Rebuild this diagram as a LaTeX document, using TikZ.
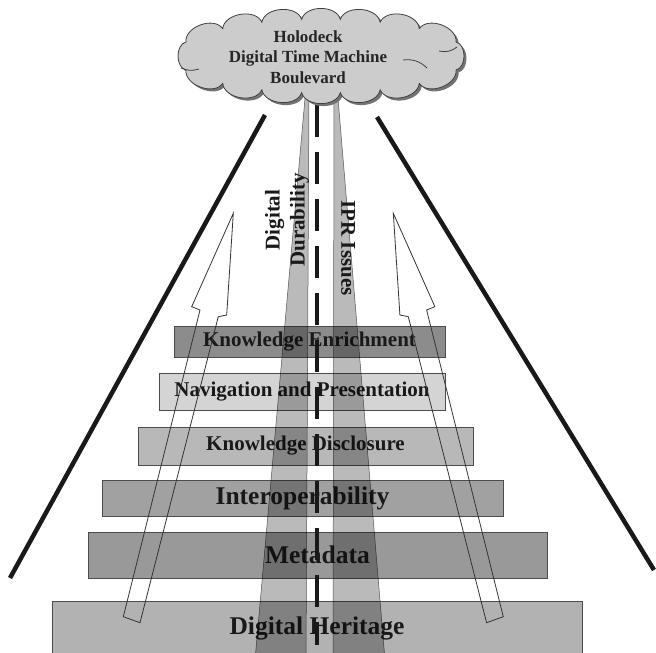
\documentclass[tikz,border=0pt]{standalone}
\usepackage{fontspec}
\setmainfont{Liberation Serif}
\usetikzlibrary{shadows}
\tikzset{
    layer/.style={draw=black!70, line width=0.7pt, inner sep=0pt, text=black!90, font=\bfseries\fontsize{21}{25}\selectfont},
    biglayer/.style={layer, font=\bfseries\fontsize{25.5}{30}\selectfont},
    beam/.style={fill=black!27, draw=black!60, line width=0.5pt, blend mode=multiply},
    beamtext/.style={align=center, inner sep=0pt, text=black!90, font=\bfseries\fontsize{21}{25}\selectfont},
    midline/.style={line width=3.3pt, black!90, dash pattern=on 32pt off 15pt},
    roadside/.style={line width=4.5pt, black!90},
    hollowarrow/.style={draw=black!80, line width=0.8pt, line join=miter},
    cloudy/.style={draw=black!75, fill=black!20, line width=0.8pt,
        drop shadow={shadow xshift=2.5pt, shadow yshift=-2.5pt, fill=black!55, opacity=1}},
    curl/.style={draw=black!75, line width=0.8pt},
    cloudtext/.style={align=center, inner sep=0pt, text=black!85, font=\bfseries\fontsize{17}{20.5}\selectfont}
}

\begin{document}
\begin{tikzpicture}[x=1pt, y=-1pt]
    \useasboundingbox (0,0) rectangle (656,653);
    % layers of the road
    \node[layer, fill=black!45, minimum width=271pt, minimum height=31pt] (enrich) at (309.5,341.5) {Knowledge Enrichment};
    \node[layer, fill=black!17, minimum width=286pt, minimum height=37pt] (navi) at (302,391.5) {Navigation and Presentation};
    \node[layer, fill=black!28, minimum width=335pt, minimum height=38pt] (disclose) at (305.5,446) {Knowledge Disclosure};
    \node[biglayer, fill=black!37, minimum width=401pt, minimum height=36pt] (interop) at (302.5,498) {Interoperability};
    \node[biglayer, fill=black!40, minimum width=459pt, minimum height=46pt] (meta) at (317.5,555) {Metadata};
    \node[biglayer, fill=black!30, minimum width=530pt, minimum height=54pt] (heritage) at (317,628) {Digital Heritage};
    % beams
    \draw[beam] (305,98) -- (309,98) -- (306,660) -- (255,660) -- cycle;
    \draw[beam] (334,98) -- (338,98) -- (385,660) -- (333,660) -- cycle;
    \draw[midline] (317,105) -- (317,645);
    % hollow arrows
    \draw[hollowarrow] (123.3,616.7) -- (200,310) -- (191.7,306.7) -- (233.3,213.3) -- (226.7,315)
        -- (218.3,316.7) -- (140,622.7) -- cycle;
    \draw[hollowarrow] (503.3,616.7) -- (426.6,310) -- (434.9,306.7) -- (393.3,213.3) -- (399.9,315)
        -- (408.3,316.7) -- (486.6,622.7) -- cycle;
    % road sides
    \draw[roadside] (265,115) -- (10,578);
    \draw[roadside] (377,117) -- (654,570);
    % cloud
    \begin{scope}[shift={(321,56)}]
        \draw[cloudy] (22.3:146 and 37)
            \foreach \a in {47.7,66.1,82.4,97.6,113.9,132.3,157.7,202.3,227.7,246.1,262.4,277.6,293.9,312.3,337.7}
                { to[bend left=75] (\a:146 and 37) }
            to[bend left=75] (22.3:146 and 37) -- cycle;
        \draw[curl] (-140,12) to[bend right=20] (-122,13);
        \draw[curl] (82,4) to[bend left=25] (106,12);
        \draw[curl] (118,-5) to[bend right=25] (136,-9);
    \end{scope}
    \node[cloudtext] (goal) at (308,57) {Holodeck\\Digital Time Machine\\Boulevard};
    \node[beamtext, rotate=90] (durability) at (287,220) {Digital\\Durability};
    \node[beamtext, rotate=-90] (ipr) at (348,248) {IPR Issues};
\end{tikzpicture}
\end{document}
